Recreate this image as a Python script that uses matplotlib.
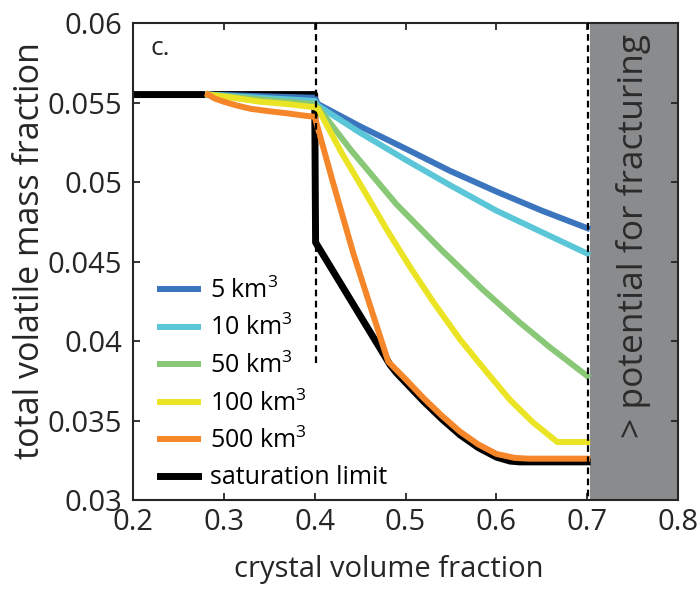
import matplotlib
matplotlib.use("Agg")
import matplotlib.pyplot as plt

plt.rcParams['font.family'] = ['Open Sans', 'DejaVu Sans']
plt.rcParams['mathtext.fontset'] = 'custom'
plt.rcParams['mathtext.rm'] = 'Open Sans'
plt.rcParams['mathtext.it'] = 'Open Sans'

# data
sat_x = [0.20, 0.40, 0.401, 0.483, 0.49, 0.50, 0.52, 0.54, 0.56, 0.58, 0.60, 0.615, 0.625, 0.70]
sat_y = [0.0555, 0.0555, 0.0462, 0.0385, 0.0380, 0.0374, 0.0362, 0.0351, 0.0341, 0.0333, 0.0327, 0.03245, 0.0324, 0.0324]

v5_x = [0.2826, 0.34, 0.40, 0.4037, 0.45, 0.50, 0.549, 0.60, 0.65, 0.70]
v5_y = [0.0555, 0.0554, 0.0553, 0.0549, 0.0535, 0.0521, 0.0507, 0.0494, 0.0482, 0.0471]

v10_x = [0.2826, 0.34, 0.40, 0.4037, 0.45, 0.50, 0.549, 0.60, 0.65, 0.70]
v10_y = [0.0555, 0.0553, 0.0551, 0.0548, 0.0531, 0.0514, 0.0498, 0.0482, 0.04685, 0.0455]

v50_x = [0.2826, 0.34, 0.40, 0.4037, 0.44, 0.49, 0.54, 0.5857, 0.625, 0.659, 0.70]
v50_y = [0.0555, 0.0552, 0.0549, 0.0547, 0.0520, 0.0486, 0.0457, 0.0432, 0.0412, 0.0396, 0.0378]

v100_x = [0.2826, 0.31, 0.34, 0.37, 0.40, 0.4037, 0.43, 0.458, 0.48, 0.505, 0.53, 0.56, 0.59, 0.615, 0.64, 0.667, 0.70]
v100_y = [0.0555, 0.0553, 0.05505, 0.0549, 0.0547, 0.0546, 0.0518, 0.0491, 0.04695, 0.04465, 0.0425, 0.0401, 0.0380, 0.0363, 0.0349, 0.03365, 0.03365]

v500_x = [0.2826, 0.29, 0.30, 0.315, 0.33, 0.35, 0.37, 0.385, 0.40, 0.402, 0.42, 0.4426, 0.46, 0.481,
          0.50, 0.52, 0.54, 0.56, 0.58, 0.60, 0.62, 0.635, 0.70]
v500_y = [0.0555, 0.05525, 0.05505, 0.0548, 0.0546, 0.05445, 0.05432, 0.0542, 0.0541, 0.0537, 0.0500, 0.0455, 0.0424, 0.0387,
          0.0376, 0.0364, 0.0353, 0.0343, 0.0335, 0.0329, 0.03265, 0.0326, 0.0326]

labels = ['5 km$^{3}$', '10 km$^{3}$', '50 km$^{3}$', '100 km$^{3}$', '500 km$^{3}$', 'saturation limit']
colors = ['#3b75bd', '#5bc6d7', '#88c877', '#ebe424', '#f5862a', 'black']

fig = plt.figure(figsize=(6.99, 5.93), dpi=100)
ax = fig.add_axes([0.1903, 0.1568, 0.7797, 0.8044])

ax.axvspan(0.703, 0.8, color='#8a8b8d', lw=0, zorder=0)

h_sat, = ax.plot(sat_x, sat_y, color=colors[5], lw=5, solid_joinstyle='round', zorder=2)
handles = []
for (xx, yy), c in zip([(v5_x, v5_y), (v10_x, v10_y), (v50_x, v50_y),
                        (v100_x, v100_y), (v500_x, v500_y)], colors[:5]):
    h, = ax.plot(xx, yy, color=c, lw=4.3, solid_joinstyle='round', zorder=3)
    handles.append(h)
handles.append(h_sat)

ax.plot([0.4015, 0.4015], [0.06, 0.0384], color='black', lw=1.6, ls=(0, (3, 2)), zorder=5)
ax.plot([0.701, 0.701], [0.06, 0.03], color='black', lw=1.6, ls=(0, (3, 2)), zorder=5)

ax.set_xlim(0.2, 0.8)
ax.set_ylim(0.03, 0.06)
ax.set_xticks([0.2, 0.3, 0.4, 0.5, 0.6, 0.7, 0.8])
ax.set_xticklabels(['0.2', '0.3', '0.4', '0.5', '0.6', '0.7', '0.8'])
ax.set_yticks([0.03, 0.035, 0.04, 0.045, 0.05, 0.055, 0.06])
ax.set_yticklabels(['0.03', '0.035', '0.04', '0.045', '0.05', '0.055', '0.06'])
ax.tick_params(direction='in', top=True, right=True, length=5, width=1.3,
               labelsize=21, colors='#262626')
ax.tick_params(axis='y', pad=8)
ax.tick_params(axis='x', pad=6)
for s in ax.spines.values():
    s.set_linewidth(1.5)
    s.set_color('#262626')

ax.set_xlabel('crystal volume fraction', fontsize=21, color='#262626')
ax.xaxis.set_label_coords(0.47, -0.115)
ax.set_ylabel('total volatile mass fraction', fontsize=24.5, color='#262626')
ax.yaxis.set_label_coords(-0.157, 0.522)

ax.text(0.032, 0.932, 'c.', transform=ax.transAxes, fontsize=19, color='#262626')
ax.text(0.7515, 0.0466, '> potential for fracturing', rotation=90, ha='center',
        va='center', fontsize=25.5, color='#2b2b2b')

ax.legend(handles, labels, loc='lower left', bbox_to_anchor=(0.05, 0.02),
          frameon=False, fontsize=18, handlelength=1.5, handletextpad=0.5,
          labelspacing=0.45, borderpad=0, borderaxespad=0)

fig.savefig('out.png', dpi=100)
